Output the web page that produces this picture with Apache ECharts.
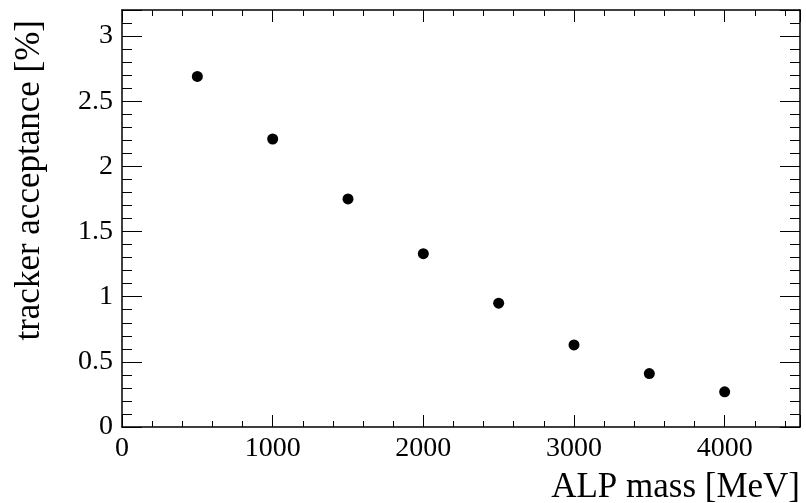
<!DOCTYPE html>
<html>
<head>
<meta charset="utf-8">
<script src="https://cdn.jsdelivr.net/npm/echarts@6/dist/echarts.min.js"></script>
<style>
  html, body { margin: 0; padding: 0; background: #fff; }
  #chart { width: 806px; height: 503px; }
</style>
</head>
<body>
<div id="chart"></div>
<script>
// ALP mass points (MeV) and the tracker acceptance at each (%)
const alpMass = [500, 1000, 1500, 2000, 2500, 3000, 3500, 4000];
const acceptance = [2.69, 2.21, 1.75, 1.33, 0.95, 0.63, 0.41, 0.27];

const xTitle = 'ALP mass [MeV]';
const yTitle = 'tracker acceptance [%]';

const FONT = '"Liberation Serif", "DejaVu Serif", serif';
const INK = '#000';

const points = alpMass.map((m, i) => [m, acceptance[i]]);

// Shared frame pieces: ticks point inward on every side, ROOT style
function xAxisCfg(pos, showLabels) {
  return {
    type: 'value', position: pos, min: 0, max: 4500, interval: 1000,
    axisLine: { show: true, onZero: false, lineStyle: { color: INK, width: 1.5 } },
    axisTick: { show: true, inside: true, length: 12, lineStyle: { color: INK, width: 1 } },
    minorTick: { show: true, splitNumber: 5, length: 6, lineStyle: { color: INK, width: 1 } },
    splitLine: { show: false },
    axisLabel: {
      show: showLabels, margin: 8, color: INK,
      fontFamily: FONT, fontSize: 28, showMaxLabel: false,
      formatter: v => String(v)
    }
  };
}
function yAxisCfg(pos, showLabels) {
  return {
    type: 'value', position: pos, min: 0, max: 3.2, interval: 0.5,
    axisLine: { show: true, onZero: false, lineStyle: { color: INK, width: 1.5 } },
    axisTick: { show: true, inside: true, length: 20, lineStyle: { color: INK, width: 1 } },
    minorTick: { show: true, splitNumber: 5, length: 10, lineStyle: { color: INK, width: 1 } },
    splitLine: { show: false },
    axisLabel: {
      show: showLabels, margin: 9, color: INK,
      fontFamily: FONT, fontSize: 28, showMaxLabel: false,
      formatter: v => String(Math.round(v * 10) / 10)
    }
  };
}

const chart = echarts.init(document.getElementById('chart'), null, { renderer: 'canvas' });

chart.setOption({
  backgroundColor: '#fff',
  animation: false,
  grid: { left: 122, right: 6, top: 10, bottom: 76, containLabel: false },
  xAxis: [xAxisCfg('bottom', true), xAxisCfg('top', false)],
  yAxis: [yAxisCfg('left', true), yAxisCfg('right', false)],
  graphic: [
    {
      // x-axis title, right-aligned to the frame's end
      type: 'text',
      x: 800, y: 505,
      style: {
        text: xTitle,
        font: '35px ' + FONT,
        fill: INK,
        align: 'right',
        verticalAlign: 'bottom'
      }
    },
    {
      // y-axis title, rotated, ending at the top of the frame
      type: 'text',
      x: 47, y: 20,
      rotation: Math.PI / 2,
      style: {
        text: yTitle,
        font: '35px ' + FONT,
        fill: INK,
        align: 'right',
        verticalAlign: 'bottom'
      }
    }
  ],
  series: [{
    type: 'scatter',
    xAxisIndex: 0, yAxisIndex: 0,
    data: points,
    symbol: 'circle',
    symbolSize: 11,
    itemStyle: { color: INK, opacity: 1 }
  }]
});
</script>
</body>
</html>
